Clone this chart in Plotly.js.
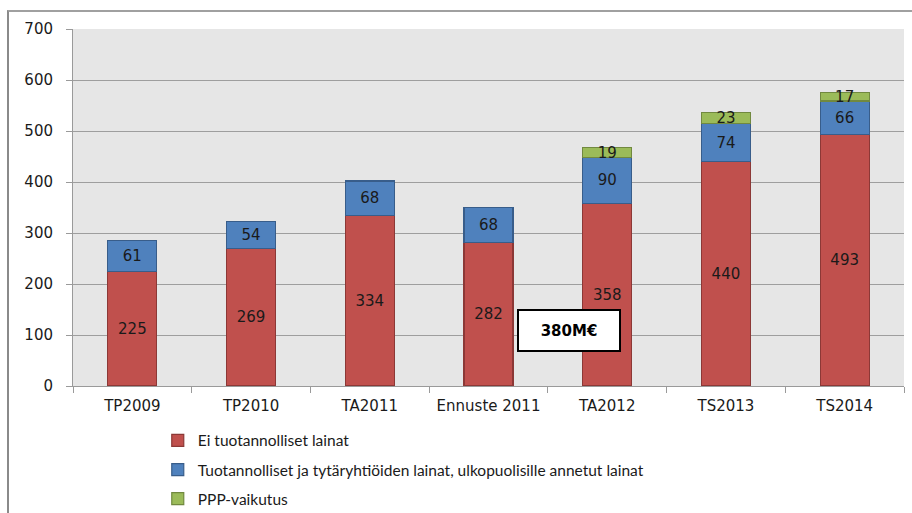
<!DOCTYPE html>
<html>
<head>
<meta charset="utf-8">
<script src="https://cdn.plot.ly/plotly-3.0.1.min.js"></script>
<style>
  html, body { margin: 0; padding: 0; background: #fff; }
  #wrap { position: relative; width: 912px; height: 513px; }
  #chart { width: 912px; height: 513px; }
  #frame { position: absolute; left: 7px; top: 10px; right: 0; bottom: 0;
           border-left: 2px solid #8a8a8a; border-top: 2px solid #a0a0a0;
           pointer-events: none; }
</style>
</head>
<body>
<div id="wrap">
  <div id="chart"></div>
  <div id="frame"></div>
</div>
<script>
const categories = ["TP2009", "TP2010", "TA2011", "Ennuste 2011", "TA2012", "TS2013", "TS2014"];
const eiTuotannolliset = [225, 269, 334, 282, 358, 440, 493];
const tuotannolliset = [61, 54, 68, 68, 90, 74, 66];
const pppVaikutus = [null, null, null, null, 19, 23, 17];
const seriesNames = [
  "Ei tuotannolliset lainat",
  "Tuotannolliset ja tytäryhtiöiden lainat, ulkopuolisille annetut lainat",
  "PPP-vaikutus"
];
const yTicks = [0, 100, 200, 300, 400, 500, 600, 700];
const calloutText = "380M€";

const labelFont = { family: "DejaVu Sans, Verdana, sans-serif", size: 15, color: "#1a1a1a" };

function barTrace(vals, name, fill, line, group) {
  return {
    type: "bar",
    x: categories,
    y: vals,
    name: name,
    legendgroup: group,
    marker: { color: fill, line: { color: line, width: 1.2 } },
    text: vals.map(v => v == null ? "" : String(v)),
    textposition: "inside",
    insidetextanchor: "middle",
    textangle: 0,
    constraintext: "none",
    textfont: labelFont,
    insidetextfont: labelFont,
    hoverinfo: "x+y+name",
    cliponaxis: false
  };
}

const data = [
  barTrace(eiTuotannolliset, seriesNames[0], "#C0504D", "#8C3836", "g1"),
  barTrace(tuotannolliset, seriesNames[1], "#4F81BD", "#385D8A", "g2"),
  barTrace(pppVaikutus, seriesNames[2], "#9BBB59", "#71893F", "g3")
];

const layout = {
  width: 912,
  height: 513,
  margin: { l: 73, r: 8, t: 29, b: 127, autoexpand: false },
  paper_bgcolor: "rgba(0,0,0,0)",
  plot_bgcolor: "#E6E6E6",
  barmode: "stack",
  bargap: 0.587,
  showlegend: true,
  font: { family: "DejaVu Sans, Verdana, sans-serif", size: 15, color: "#1a1a1a" },
  xaxis: {
    type: "category",
    tickson: "boundaries",
    ticks: "outside",
    ticklen: 6,
    tickcolor: "#9a9a9a",
    showline: true,
    linecolor: "#9a9a9a",
    linewidth: 1,
    showgrid: false,
    automargin: false,
    ticklabelstandoff: 6,
    tickfont: { family: "DejaVu Sans, Verdana, sans-serif", size: 15, color: "#1a1a1a" },
    fixedrange: true
  },
  yaxis: {
    range: [0, 700],
    tickvals: yTicks,
    ticktext: yTicks.map(String),
    ticks: "outside",
    ticklen: 6,
    tickcolor: "#9a9a9a",
    showline: true,
    linecolor: "#9a9a9a",
    linewidth: 1,
    showgrid: true,
    gridcolor: "#9e9e9e",
    gridwidth: 1,
    zeroline: false,
    automargin: false,
    ticklabelstandoff: 10,
    tickfont: { family: "DejaVu Sans, Verdana, sans-serif", size: 15, color: "#1a1a1a" },
    fixedrange: true
  },
  legend: {
    orientation: "v",
    x: 0.102,
    xanchor: "left",
    y: -0.106,
    yanchor: "top",
    traceorder: "grouped",
    tracegroupgap: 6,
    bgcolor: "rgba(0,0,0,0)",
    font: { family: "Lato, Calibri, sans-serif", size: 15.5, color: "#1a1a1a" }
  },
  annotations: [{
    x: 3.68,
    y: 109,
    xref: "x",
    yref: "y",
    text: "<b>" + calloutText + "</b>",
    showarrow: false,
    bgcolor: "#ffffff",
    bordercolor: "#000000",
    borderwidth: 2,
    borderpad: 2,
    width: 96,
    height: 35,
    font: { family: "DejaVu Sans, Verdana, sans-serif", size: 15, color: "#000000" }
  }]
};

Plotly.newPlot("chart", data, layout, { displayModeBar: false, staticPlot: true });
</script>
</body>
</html>
